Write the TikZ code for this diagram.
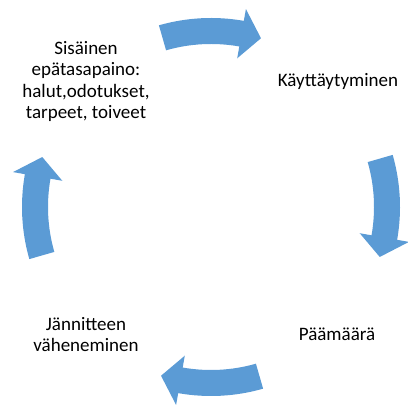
\documentclass[tikz,border=0pt]{standalone}
\usepackage{fontspec}
\setmainfont{Carlito}
\definecolor{cycleblue}{HTML}{5B9BD5}
\begin{document}
\begin{tikzpicture}[x=1pt,y=1pt,line join=round,font=\fontsize{19}{21.5}\selectfont]
\def\rin{163}
\def\rout{189}
\def\rmid{176}
\def\rbin{151}
\def\rbout{201}
\tikzset{cyclearrow/.style={fill=cycleblue,draw=none}}
\useasboundingbox (0,0) rectangle (407,409);
\coordinate (c) at (211,202);
% the four curved arrows, clockwise
\foreach \a in {90,0,-90,180} {
  \fill[cyclearrow,shift={(c)}] ({\a+16}:\rout) arc[start angle=\a+16,end angle=\a-10,radius=\rout]
    -- ({\a-10}:\rbout) -- ({\a-16.5}:\rmid) -- ({\a-10}:\rbin) -- ({\a-10}:\rin)
    arc[start angle=\a-10,end angle=\a+16,radius=\rin] -- cycle;
}
\node[align=center] (sisainen) at (86,327.5) {Sisäinen\\epätasapaino:\\halut,odotukset,\\tarpeet, toiveet};
\node (kayttaytyminen) at (338,327) {Käyttäytyminen};
\node (paamaara) at (337,75) {Päämäärä};
\node[align=center] (jannitteen) at (86,74.5) {Jännitteen\\väheneminen};
\end{tikzpicture}
\end{document}
